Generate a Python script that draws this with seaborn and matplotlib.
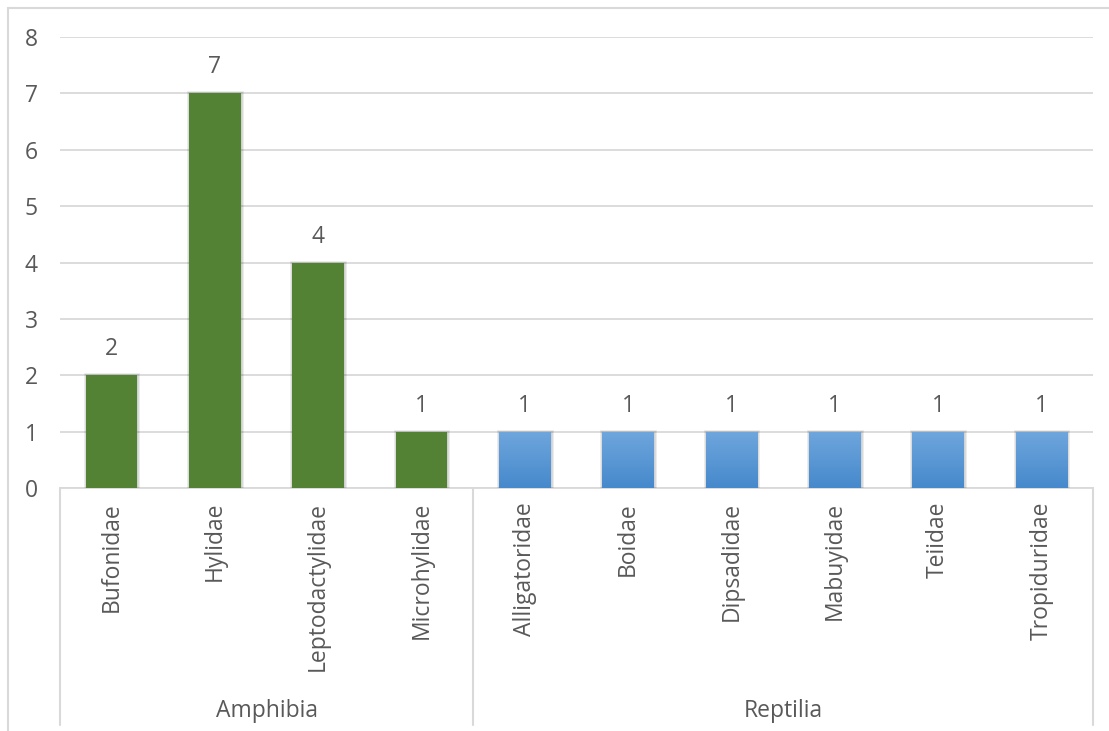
import numpy as np
import pandas as pd
import matplotlib
matplotlib.use("Agg")
import matplotlib.pyplot as plt
import matplotlib.patheffects as pe
from matplotlib.colors import LinearSegmentedColormap
from matplotlib.lines import Line2D
import seaborn as sns

# Species counts per family, grouped by class
families = ["Bufonidae", "Hylidae", "Leptodactylidae", "Microhylidae",
            "Alligatoridae", "Boidae", "Dipsadidae", "Mabuyidae", "Teiidae", "Tropiduridae"]
classes = ["Amphibia"] * 4 + ["Reptilia"] * 6
counts = [2, 7, 4, 1, 1, 1, 1, 1, 1, 1]
group_names = ["Amphibia", "Reptilia"]

df = pd.DataFrame({"family": families, "cls": classes, "count": counts})

sns.set_theme(style="white")
plt.rcParams["font.family"] = ["Open Sans", "DejaVu Sans"]
TEXT = "#595959"
GRID = "#d9d9d9"
FS = 16.5

fig = plt.figure(figsize=(11.09, 7.31), dpi=100)
ax = fig.add_axes([60 / 1109, (731 - 488) / 731, (1093 - 60) / 1109, (488 - 37) / 731])

sns.barplot(data=df, x="family", y="count", hue="cls", dodge=False, width=0.5,
            palette={"Amphibia": "#548235", "Reptilia": "#5b9bd5"}, saturation=1,
            order=families, legend=False, ax=ax, zorder=3, linewidth=0)

ax.set_ylim(0, 8)
ax.set_xlim(-0.5, len(families) - 0.5)
ax.set_yticks(range(0, 9))
ax.yaxis.grid(True, color=GRID, linewidth=1.3, zorder=0)
ax.set_axisbelow(True)
for s in ["left", "right", "top"]:
    ax.spines[s].set_visible(False)
ax.spines["bottom"].set_color(GRID)
ax.spines["bottom"].set_linewidth(1.3)
ax.tick_params(axis="y", length=0, pad=16, labelsize=FS, labelcolor=TEXT)
ax.tick_params(axis="x", length=0, pad=10, labelsize=FS, labelcolor=TEXT)
ax.set_xticks(range(len(families)))
ax.set_xticklabels(families, rotation=90, va="top", ha="center")
ax.set_xlabel("")
ax.set_ylabel("")

# soft shadow around bars, gradient fill for reptile bars
grad_cmap = LinearSegmentedColormap.from_list("blue_grad", ["#4689cc", "#6fa6dd"])
shadow = [pe.withStroke(linewidth=3.5, foreground="#000000", alpha=0.08),
          pe.withStroke(linewidth=2.0, foreground="#000000", alpha=0.08),
          pe.Normal()]
bars = sorted(ax.patches, key=lambda p: p.get_x())
for bar, cls in zip(bars, classes):
    bar.set_path_effects(shadow)
    if cls == "Reptilia":
        x0, y0 = bar.get_x(), bar.get_y()
        w, h = bar.get_width(), bar.get_height()
        img = ax.imshow(np.linspace(0, 1, 64).reshape(-1, 1), cmap=grad_cmap,
                        extent=[x0, x0 + w, y0, y0 + h], origin="lower",
                        aspect="auto", zorder=4)
        img.set_clip_path(bar)

ax.set_xlim(-0.5, len(families) - 0.5)
ax.set_ylim(0, 8)

# value labels
for bar, v in zip(bars, counts):
    ax.annotate(str(v), (bar.get_x() + bar.get_width() / 2, v),
                xytext=(0, 10), textcoords="offset points",
                ha="center", va="bottom", fontsize=FS, color=TEXT, zorder=5)

# two-level category axis: group dividers and group names
trans = ax.get_xaxis_transform()
bottom_y = -(725 - 488) / (488 - 37)
bounds = [-0.5, 3.5, len(families) - 0.5]
for xb in bounds:
    ax.add_line(Line2D([xb, xb], [0, bottom_y], transform=trans, color=GRID,
                       linewidth=1.5, clip_on=False))
group_y = -(711 - 488) / (488 - 37)
for name, a, b in zip(group_names, bounds[:-1], bounds[1:]):
    ax.text((a + b) / 2, group_y, name, transform=trans, ha="center", va="center",
            fontsize=FS, color=TEXT)

# chart frame
fig.add_artist(Line2D([8 / 1109, 8 / 1109], [0, 1 - 8 / 731], color=GRID, linewidth=1.5))
fig.add_artist(Line2D([8 / 1109, 1], [1 - 8 / 731, 1 - 8 / 731], color=GRID, linewidth=1.5))

fig.savefig("out.png", dpi=100)
